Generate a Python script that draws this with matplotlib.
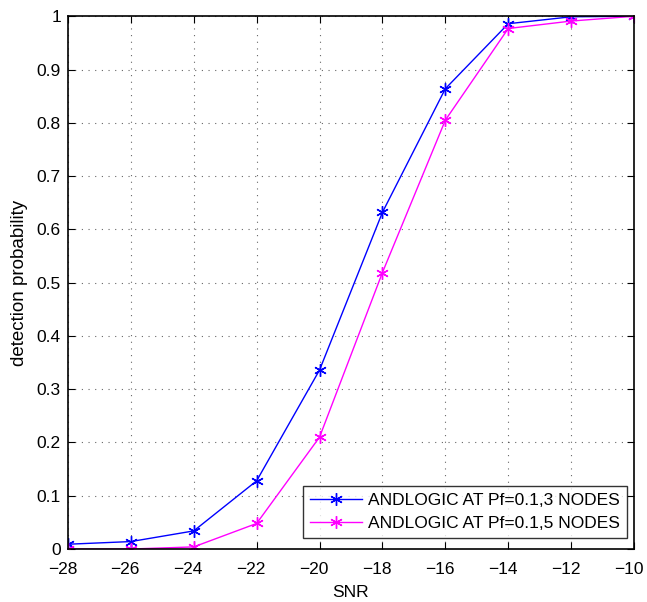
import matplotlib.pyplot as plt
from matplotlib.transforms import ScaledTranslation

plt.rcParams['font.family'] = ['Liberation Sans', 'DejaVu Sans']

# SNR steps and detection probability for each node count
snr = [-28, -26, -24, -22, -20, -18, -16, -14, -12, -10]
pd_3nodes = [0.009, 0.014, 0.034, 0.128, 0.336, 0.632, 0.864, 0.986, 0.999, 1.0]
pd_5nodes = [0.0, 0.0, 0.004, 0.048, 0.21, 0.519, 0.805, 0.977, 0.991, 1.0]

labels = ['ANDLOGIC AT Pf=0.1,3 NODES', 'ANDLOGIC AT Pf=0.1,5 NODES']

fig = plt.figure(figsize=(6.47, 6.02), dpi=100)
ax = fig.add_axes([0.105, 0.088, 0.875, 0.885])

ax.plot(snr, pd_3nodes, color='#0000ff', lw=1, marker=(6, 2, 0), ms=9, mew=1, label=labels[0])
ax.plot(snr, pd_5nodes, color='#ff00ff', lw=1, marker=(6, 2, 0), ms=9, mew=1, label=labels[1])

ax.set_xlim(-28, -10)
ax.set_ylim(0, 1)
ax.set_xticks(range(-28, -9, 2))
ax.set_yticks([i / 10 for i in range(11)])
ax.set_xticklabels(['\u2212%d' % abs(v) for v in range(-28, -9, 2)])
ax.set_yticklabels(['0'] + ['%.1f' % (i / 10) for i in range(1, 10)] + ['1'])
ax.tick_params(direction='in', length=5, labelsize=12.5, top=True, right=True)
ax.tick_params(axis='x', pad=9)
ax.tick_params(axis='y', pad=5)
ax.grid(True, color='black', linestyle=(0, (1, 5)), linewidth=0.8, alpha=0.6)
for s in ax.spines.values():
    s.set_linewidth(1.2)

# nudge x tick labels a little left, the minus sign hangs off the number
shift = ScaledTranslation(-4 / 72, 0, fig.dpi_scale_trans)
for lbl in ax.get_xticklabels():
    lbl.set_transform(lbl.get_transform() + shift)

ax.set_xlabel('SNR', fontsize=12.5, labelpad=6)
ax.set_ylabel('detection probability', fontsize=13.5, labelpad=6)

leg = ax.legend(loc='lower right', bbox_to_anchor=(627 / 647, 64 / 602),
                bbox_transform=fig.transFigure, borderaxespad=0,
                fontsize=12.5, frameon=True, fancybox=False, edgecolor='black',
                handlelength=3.0, handletextpad=0.35, labelspacing=0.44,
                borderpad=0.4)
leg.get_frame().set_linewidth(1.0)

fig.savefig('out.png', dpi=100)
